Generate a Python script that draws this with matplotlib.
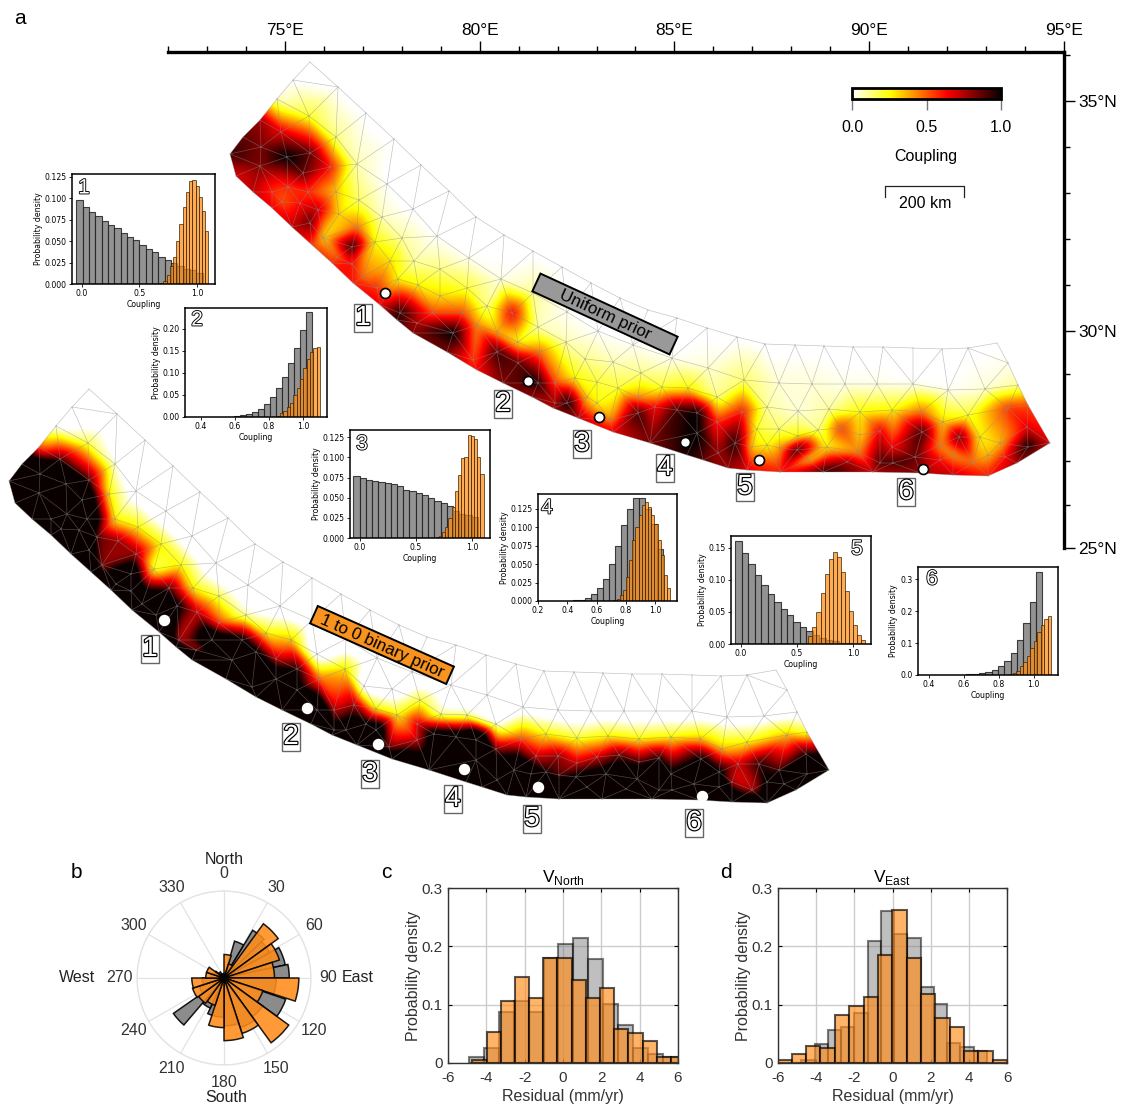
import numpy as np
import matplotlib
matplotlib.use("Agg")
import matplotlib.pyplot as plt
import matplotlib.patheffects as pe
import matplotlib.tri as mtri
from matplotlib.path import Path
from matplotlib.patches import Rectangle, PathPatch
from matplotlib.transforms import Affine2D
from matplotlib.ticker import FormatStrFormatter

plt.rcParams['font.family'] = ['Liberation Sans', 'DejaVu Sans']
plt.rcParams['axes.unicode_minus'] = False

W, H = 1122, 1108

# fault mesh in map units (1 unit = 2.5 km), easting and northing, rows along the arc
top_e = [62,75,92,109,125,142,170,198,226,253,281,308,336,365,394,423,452,480,509,539,569,597,627,656,685,715,745,774,800,829,840,850,860,882]
top_n = [394,411,428,449,468,486,461,435,409,383,357,331,313,297,281,265,250,238,230,220,211,204,203,202,201,201,200,199,200,205,185,163,143,105]
top_uni = [.9,.85,.75,.05,0,0,0,0,0,0,0,0,0,0,0,0,0,0,0,0,0,0,0,0,0,0,0,0,0,.01,.03,.1,.5,.65]
top_bin = [1,.9,.35,.08,0,0,0,0,0,0,0,0,0,0,0,0,0,0,0,0,0,0,0,0,0,0,0,0,0,0,.02,.05,.2,.95]

a_e = [141,168,189,219,245,269,301,333,365,399,430,465,504,540,576,611,644,677,709,745,780,817]
a_n = [432,411,384,364,339,312,290,269,255,236,217,203,190,180,168,165,164,164,164,164,158,159]
a_uni = [.2,.12,.08,.01,0,.01,.02,.03,.1,.02,.01,.02,.02,.05,.15,.05,.05,.03,.03,.02,.02,.05]
a_bin = [.2,.12,.05,0,0,0,0,.02,.03,0,0,0,.01,.02,.05,.03,.03,.03,.03,.03,.05,.06]

b_e = [113,93,168,191,214,234,246,272,299,319,344,370,398,417,445,473,520,549,599,630,661,692,724,753,775,800,840]
b_n = [416,401,356,348,331,310,287,279,260,242,235,221,206,189,186,175,160,151,141,137,139,136,138,136,126,133,140]
b_uni = [.65,.8,.33,.15,.07,.1,.1,.13,.2,.12,.65,.08,.08,.12,.08,.12,.25,.12,.1,.05,.1,.25,.25,.45,.3,.2,.55]
b_bin = [.6,1,.25,.25,.25,.25,.25,.2,.15,.25,.3,.03,.28,.05,.02,.22,.15,.1,.25,.22,.25,.25,.25,.3,.3,.25,.3]

c_e = [92,120,140,150,171,189,207,222,230,250,272,295,309,329,350,372,387,407,429,450,470,494,549,574,589,611,630,650,672,692,712,724,754,772,791,812,832,859]
c_n = [382,361,356,338,334,321,306,287,269,263,252,235,223,216,206,196,165,170,166,160,151,161,126,136,119,119,112,118,120,113,117,101,116,103,111,111,105,121]
c_uni = [.8,.55,.55,.7,.3,.45,.25,.3,.25,.25,.3,.5,.4,.35,.25,.45,.5,.25,.2,.2,.4,.2,.55,.6,.2,.15,.25,.12,.55,.3,.65,.6,.9,.4,.85,.25,.35,.65]
c_bin = [1,1,.95,.6,.55,.55,.2,.6,.7,.5,.4,.7,.7,.5,.65,.36,.5,.55,.25,.25,.5,.15,.55,.4,.5,.55,.5,.5,.6,.6,.65,.7,.7,.7,.5,.65,.6,.65]

d_e = [104,114,132,142,155,169,184,184,195,209,232,249,265,285,305,329,350,370,387,399,419,429,442,470,487,509,529,529,550,567,584,599,612,629,640,659,679,690,712,725,747,772,785,805,820,837,860]
d_n = [356,346,345,325,310,291,301,284,271,260,235,225,235,215,188,196,185,165,145,145,151,145,128,135,141,138,135,115,95,105,101,103,100,98,88,101,86,96,85,85,91,88,93,85,93,91,101]
d_uni = [.55,.5,.6,.85,.3,.45,.95,.6,.45,.55,.95,.7,.5,1,.5,.9,.85,.95,.7,1,.3,.25,.4,.9,.6,.9,1,1,.75,.95,.3,.25,.4,.95,.3,.25,.75,.4,.9,.9,.85,.6,.4,.45,.35,.6,1]
d_bin = [1,.95,.9,.8,.55,.8,.85,.95,.95,1,.5,.5,.85,1,.95,.85,.75,.95,.7,.8,.7,.85,.55,.5,.75,.8,1,1,.95,.9,.8,.65,.6,.7,.8,.75,.95,.8,.95,.95,.65,.9,.5,.5,.7,.95,1]

bot_e = [68,85,104,124,144,164,185,212,229,245,279,309,335,364,385,410,445,482,519,535,560,579,612,655,705,752,785,820,849]
bot_n = [372,356,340,321,303,285,265,243,228,215,196,178,165,151,140,130,116,105,93,88,80,78,76,76,76,75,73,72,85]
bot_uni = [.65,.7,.65,.7,.55,.6,.6,.65,.9,.8,.8,.6,.8,.75,.75,.75,.65,.8,.95,.85,.75,.65,.6,.95,.7,.75,.7,.6,.75]
bot_bin = [1,1,1,.95,.8,.8,1,1,.8,1,1,1,1,1,1,.9,.8,.85,.95,1,.9,.9,.9,.95,.95,.95,.9,.85,.95]

# extra nodes inside the north west patch
nw_e = [119,142,162,135]
nw_n = [391,395,381,375]
nw_uni = [1,.85,.6,.85]
nw_bin = [1,.6,.25,1]

# GPS sites on the fault
site_e = [217,360,431,517,591,755]
site_n = [255,167,131,106,88,79]
site_names = ['1','2','3','4','5','6']
label_uni_e = [195,335,414,497,577,738]
label_uni_n = [230,144,104,80,61,56]
label_bin_e = [203,344,423,506,585,747]
label_bin_n = [226,138,101,76,56,52]

# histograms of coupling at the six sites
gray1 = [.098,.09,.084,.079,.074,.069,.065,.06,.055,.051,.046,.041,.037,.032,.028,.024,.021,.017,.016,.013]
orange1 = [.001,.004,.01,.021,.032,.05,.07,.09,.108,.12,.122,.115,.102,.085,.062]
gray2 = [.0005,.001,.002,.004,.007,.012,.018,.03,.046,.066,.09,.122,.157,.197,.237]
orange2 = [.003,.008,.013,.023,.032,.049,.065,.087,.11,.132,.147,.156,.158]
gray3 = [.077,.074,.072,.071,.07,.068,.067,.064,.06,.058,.056,.053,.05,.046,.043,.04,.034,.03,.028,.026]
orange3 = [.001,.003,.007,.014,.025,.039,.058,.078,.099,.101,.128,.127,.123,.101,.08]
gray4 = [.001,.002,.004,.009,.017,.03,.05,.075,.103,.125,.139,.139,.125,.105,.07]
orange4 = [.001,.003,.008,.015,.033,.055,.082,.1,.117,.13,.134,.128,.117,.105,.083,.062,.035,.018]
gray5 = [.16,.142,.124,.108,.092,.078,.066,.055,.045,.035,.027,.02,.014,.01,.006,.004,.002,.001]
orange5 = [.012,.027,.05,.08,.109,.133,.143,.135,.112,.083,.052,.03,.014,.006]
gray6 = [.001,.002,.003,.006,.01,.017,.027,.045,.07,.11,.162,.228,.322]
orange6 = [.003,.007,.014,.027,.04,.058,.085,.105,.135,.158,.175,.185]
gray_ranges = [(-.05,1.05),(.522,1.05),(-.057,1.05),(.44,1.05),(-.05,.986),(.579,1.05)]
orange_ranges = [(.68,1.1),(.844,1.1),(.674,1.1),(.714,1.1),(.6,1.106),(.86,1.1)]

# residual azimuths, panel b
rose_edges = [0,18,36,54,72,90,108,126,144,162,180,198,216,234,252,270,288,306,324,342,360]
rose_orange = [.27,.17,.77,.67,.58,.86,.47,.92,.67,.72,.57,.33,.36,.38,.37,.21,.21,.05,.04,.04]
rose_gray_edges = [0,16,31,46,61,78,90,109,126,144,162,180,204.5,220.5,235,252,270,290,310,330,360]
rose_gray = [.05,.44,.64,.6,.72,.75,.6,.75,.55,.6,.55,.45,.38,.71,.3,.25,.15,.12,.08,.05]

# residual histograms, panels c and d
north_gray = [.01,.025,.087,.107,.087,.18,.204,.214,.178,.102,.066,.025,.015,.01]
north_orange = [.005,.053,.106,.148,.111,.18,.18,.143,.111,.128,.059,.052,.037,.01,.01]
east_gray = [.005,.033,.057,.062,.085,.21,.261,.222,.215,.13,.102,.034,.028,.02]
east_orange = [.005,.015,.03,.026,.082,.098,.114,.185,.263,.18,.119,.077,.062,.02,.02,.005]

GRAY = '#808080'
ORANGE = '#F7931E'


def px_axes(left, top, right, bottom, **kw):
    return fig.add_axes([left/W, 1-bottom/H, (right-left)/W, (bottom-top)/H], **kw)


def px_text(x, y, s, **kw):
    kw.setdefault('ha', 'center')
    kw.setdefault('va', 'center')
    return fig.text(x/W, 1-y/H, s, **kw)


fig = plt.figure(figsize=(W/100, H/100), dpi=100)

# mesh
mesh_e = np.array(top_e+a_e+b_e+c_e+d_e+bot_e+nw_e, float)
mesh_n = np.array(top_n+a_n+b_n+c_n+d_n+bot_n+nw_n, float)
uniform = np.array(top_uni+a_uni+b_uni+c_uni+d_uni+bot_uni+nw_uni)
binary = np.array(top_bin+a_bin+b_bin+c_bin+d_bin+bot_bin+nw_bin)
tri = mtri.Triangulation(mesh_e, mesh_n)
outline = Path(np.column_stack([top_e+bot_e[::-1], top_n+bot_n[::-1]]))
centres = np.column_stack([mesh_e[tri.triangles].mean(axis=1), mesh_n[tri.triangles].mean(axis=1)])
tri.set_mask(~outline.contains_points(centres))
grid_e, grid_n = np.meshgrid(np.arange(0, 896, 1.0), np.arange(0, 496, 1.0))
kernel = np.exp(-0.5*(np.arange(-12, 13)/3.5)**2)
kernel = kernel/kernel.sum()


def blur(z):
    z = np.apply_along_axis(lambda r: np.convolve(r, kernel, mode='same'), 0, z)
    return np.apply_along_axis(lambda r: np.convolve(r, kernel, mode='same'), 1, z)


def draw_mesh(ax, values, pivot, gain):
    # colours saturate in the source map, so the node values are stretched before the clip
    stretched = pivot+(values-pivot)*gain
    field = mtri.LinearTriInterpolator(tri, stretched)(grid_e, grid_n)
    inside = (~np.ma.getmaskarray(field)).astype(float)
    smooth = blur(np.ma.filled(field, 0.0))/np.maximum(blur(inside), 1e-6)
    im = ax.imshow(smooth, origin='lower', extent=(0, 896, 0, 496), cmap='hot_r', vmin=0, vmax=1,
                   interpolation='bilinear', aspect='auto')
    im.set_clip_path(PathPatch(outline, transform=ax.transData))
    ax.triplot(tri, color='#8c8c8c', lw=0.45, alpha=0.55)
    ax.set_xlim(0, 896)
    ax.set_ylim(0, 496)
    return im


def site_box(ax, e, n, s):
    ax.text(e, n, s, fontsize=20, color='white', ha='center', va='center',
            path_effects=[pe.withStroke(linewidth=1.7, foreground='black')],
            bbox=dict(boxstyle='square,pad=0.04', fc='white', ec='#666666', lw=1))


def prior_box(ax, ce, cn, w, h, angle, color, s):
    rot = Affine2D().rotate_deg_around(ce, cn, angle)+ax.transData
    ax.add_patch(Rectangle((ce-w/2, cn-h/2), w, h, fc=color, ec='black', lw=1.4, transform=rot, zorder=5))
    ax.text(ce, cn-1, s, fontsize=12.3, rotation=angle, rotation_mode='anchor', ha='center', va='center', zorder=6)


# binary prior, same map shifted down and left
ax_bin = px_axes(168-221, 52+327, 1064-221, 548+327)
ax_bin.patch.set_alpha(0)
draw_mesh(ax_bin, binary, 0.25, 1.8)
ax_bin.plot(site_e, site_n, 'o', ms=7.2, mfc='white', mec='white', ls='none', zorder=4)
ax_bin.axis('off')
for e, n, s in zip(label_bin_e, label_bin_n, site_names):
    site_box(ax_bin, e, n, s)
prior_box(ax_bin, 435, 230, 149, 19, -24, ORANGE, '1 to 0 binary prior')

# uniform prior with the map frame
ax = px_axes(168, 52, 1064, 548)
ax.patch.set_alpha(0)
im = draw_mesh(ax, uniform, 0.25, 1.05)
ax.plot(site_e, site_n, 'o', ms=7.2, mfc='white', mec='black', mew=1.2, ls='none', zorder=4)
for e, n, s in zip(label_uni_e, label_uni_n, site_names):
    site_box(ax, e, n, s)
prior_box(ax, 437, 234, 151, 19.5, -24.7, '#999999', 'Uniform prior')

lon_major = [75, 80, 85, 90, 95]
lat_major = [25, 30, 35]
lon_to_e = lambda lon: (np.asarray(lon)-72)*896/23
lat_to_n = lambda lat: np.interp(lat, [25, 30, 35, 36], [0, 217, 447, 493])
ax.xaxis.tick_top()
ax.yaxis.tick_right()
ax.set_xticks(lon_to_e(lon_major))
ax.set_xticklabels(['%d°E' % v for v in lon_major], fontsize=12.5)
ax.set_xticks(lon_to_e(np.arange(72, 96)), minor=True)
ax.set_yticks(lat_to_n(lat_major))
ax.set_yticklabels(['%d°N' % v for v in lat_major], fontsize=12.5)
ax.set_yticks(lat_to_n(np.arange(25, 37)), minor=True)
ax.tick_params(which='major', length=8, width=1, pad=2)
ax.tick_params(which='minor', length=4, width=1)
for side in ['left', 'bottom']:
    ax.spines[side].set_visible(False)
for side in ['top', 'right']:
    ax.spines[side].set_linewidth(2.4)

# scale bar
ax.plot([717, 717, 796, 796], [351, 362, 362, 351], color='#222222', lw=0.9)
ax.text(757, 345, '200 km', fontsize=11.5, ha='center', va='center')

# colorbar
cax = px_axes(852, 88, 1001, 99)
cb = fig.colorbar(im, cax=cax, orientation='horizontal')
cb.set_ticks([0, 0.5, 1])
cb.set_ticklabels(['0.0', '0.5', '1.0'])
cb.outline.set_linewidth(2)
cax.tick_params(length=8, width=1, color='#777777', labelsize=11.5, pad=7)
px_text(926, 157, 'Coupling', fontsize=11.5)

# site histograms
frames = [(72,174,215,284),(185,308,327,417),(350,430,490,538),(538,494,677,601),(731,536,871,644),(918,567,1058,675)]
xlims = [(-.087,1.157),(.308,1.14),(-.087,1.157),(.2,1.147),(-.087,1.157),(.339,1.139)]
ylims = [(0,.1285),(0,.247),(0,.134),(0,.145),(0,.168),(0,.338)]
xticks = [[0,.5,1],[.4,.6,.8,1],[0,.5,1],[.2,.4,.6,.8,1],[0,.5,1],[.4,.6,.8,1]]
yticks = [[0,.025,.05,.075,.1,.125],[0,.05,.1,.15,.2],[0,.025,.05,.075,.1,.125],[0,.025,.05,.075,.1,.125],[0,.05,.1,.15],[0,.1,.2,.3]]
yfmt = ['%.3f','%.2f','%.3f','%.3f','%.2f','%.1f']
grays = [gray1, gray2, gray3, gray4, gray5, gray6]
oranges = [orange1, orange2, orange3, orange4, orange5, orange6]
num_xy = [(84,188),(197,320),(362,444),(547,508),(857,549),(932,579)]

for i in range(6):
    a = px_axes(*frames[i])
    g_edges = np.linspace(gray_ranges[i][0], gray_ranges[i][1], len(grays[i])+1)
    o_edges = np.linspace(orange_ranges[i][0], orange_ranges[i][1], len(oranges[i])+1)
    a.bar(g_edges[:-1], grays[i], width=np.diff(g_edges), align='edge', color=GRAY, alpha=0.85, edgecolor='#222222', lw=0.8)
    a.bar(o_edges[:-1], oranges[i], width=np.diff(o_edges), align='edge', color='#FF8A14', alpha=0.72, edgecolor='#3a2500', lw=0.7)
    a.set_xlim(xlims[i])
    a.set_ylim(ylims[i])
    a.set_xticks(xticks[i])
    a.set_yticks(yticks[i])
    a.yaxis.set_major_formatter(FormatStrFormatter(yfmt[i]))
    a.xaxis.set_major_formatter(FormatStrFormatter('%.1f'))
    a.tick_params(labelsize=5.6, length=2.2, width=0.6, pad=1.5, labelfontfamily='DejaVu Sans')
    a.set_xlabel('Coupling', fontsize=5.6, family='DejaVu Sans', labelpad=1)
    a.set_ylabel('Probability density', fontsize=5.6, family='DejaVu Sans', labelpad=1.5)
    for sp in a.spines.values():
        sp.set_linewidth(1.1)
    px_text(num_xy[i][0], num_xy[i][1], site_names[i], fontsize=15, color='white',
            path_effects=[pe.withStroke(linewidth=1.3, foreground='black')])

# panel b
pol = px_axes(137, 891, 311, 1065, projection='polar')
pol.set_theta_zero_location('N')
pol.set_theta_direction(-1)
pol.bar(np.radians(rose_gray_edges[:-1]), rose_gray, width=np.radians(np.diff(rose_gray_edges)), align='edge',
        color=GRAY, alpha=0.9, edgecolor='black', lw=1.1)
pol.bar(np.radians(rose_edges[:-1]), rose_orange, width=np.radians(np.diff(rose_edges)), align='edge',
        color='#FF8C1A', alpha=0.88, edgecolor='black', lw=1.1)
pol.set_ylim(0, 1)
pol.set_yticks([1])
pol.set_yticklabels([])
pol.set_thetagrids(np.arange(0, 360, 30), [str(v) for v in range(0, 360, 30)], fontsize=11.5, color='#333333')
pol.tick_params(axis='x', pad=2)
pol.grid(color='#e3e3e3', lw=0.9)
pol.spines['polar'].set_color('#e3e3e3')
pol.spines['polar'].set_linewidth(0.9)
pol.set_axisbelow(True)
px_text(224, 859, 'North', fontsize=11.5, color='#222222')
px_text(226, 1098, 'South', fontsize=11.5, color='#222222')
px_text(358, 977, 'East', fontsize=11.5, color='#222222')
px_text(77, 977, 'West', fontsize=11.5, color='#222222')

# panels c and d
panels = [(448, 678, north_gray, north_orange, (-4.9, 5.98), (-4.73, 6.37), 'North'),
          (778, 1007, east_gray, east_orange, (-4.78, 4.95), (-6.03, 6.0), 'East')]
for left, right, g, o, g_range, o_range, name in panels:
    a = px_axes(left, 888, right, 1063)
    g_edges = np.linspace(g_range[0], g_range[1], len(g)+1)
    o_edges = np.linspace(o_range[0], o_range[1], len(o)+1)
    a.bar(g_edges[:-1], g, width=np.diff(g_edges), align='edge', color=GRAY, alpha=0.5, edgecolor='black', lw=1.5)
    a.bar(o_edges[:-1], o, width=np.diff(o_edges), align='edge', color='#FF8C1A', alpha=0.65, edgecolor='black', lw=1.5)
    a.set_xlim(-6, 6)
    a.set_ylim(0, 0.3)
    a.set_xticks([-6, -4, -2, 0, 2, 4, 6])
    a.set_yticks([0, 0.1, 0.2, 0.3])
    a.set_yticklabels(['0', '0.1', '0.2', '0.3'])
    a.grid(color='#cccccc', lw=1)
    a.set_axisbelow(True)
    a.tick_params(direction='in', top=True, right=True, labelsize=11, length=3, width=0.8, labelcolor='#333333')
    a.tick_params(axis='x', pad=6)
    a.tick_params(axis='y', pad=4)
    a.set_xlabel('Residual (mm/yr)', fontsize=11.5, color='#333333', labelpad=3)
    a.set_ylabel('Probability density', fontsize=11.5, color='#333333', labelpad=0)
    a.set_title('V$_{\\mathregular{%s}}$' % name, fontsize=12.5, pad=4)
    for sp in a.spines.values():
        sp.set_linewidth(1)
        sp.set_color('#333333')

px_text(20, 18, 'a', fontsize=15)
px_text(76, 872, 'b', fontsize=15)
px_text(386, 872, 'c', fontsize=15)
px_text(726, 872, 'd', fontsize=15)

fig.savefig('out.png', dpi=100)
